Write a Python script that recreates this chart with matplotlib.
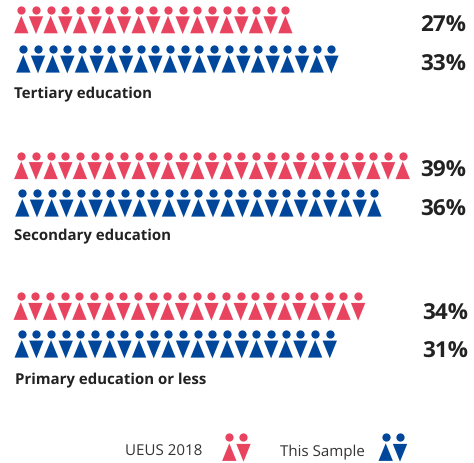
import matplotlib
matplotlib.use('Agg')
import matplotlib.pyplot as plt

plt.rcParams['font.family'] = ['Open Sans', 'DejaVu Sans']
plt.rcParams['text.hinting'] = 'none'

RED = '#e8445f'
BLUE = '#00479b'
DARK = '#222222'

labels = ['Tertiary education', 'Secondary education', 'Primary education or less']
ueus_pct = [27, 39, 34]
sample_pct = [33, 36, 31]
# one pictogram stands for about 1.4 percent
ueus_icons = [19, 27, 24]
sample_icons = [22, 25, 22]

# pixel layout of each group
red_y = [10.7, 156.5, 297.3]
blue_y = [50, 194, 335]
red_x = [21.3, 21.3, 20.7]
blue_x = [23.3, 22.3, 21.7]
red_text_y = [26.5, 171.5, 314]
blue_text_y = [65.5, 210.5, 352.5]
text_right = [466, 466, 468]
label_x = [14, 14, 15.5]
label_y = [94.5, 237, 380.5]

STEP = 14.67
W = 7.2


def icon(ax, cx, top, color, up):
    # head plus a triangle body, pointing up or down
    ax.scatter([cx], [top], s=35, color=color, linewidths=0, zorder=3)
    xs = [cx - W, cx + W, cx]
    if up:
        ys = [top + 23.6, top + 23.6, top + 6]
    else:
        ys = [top + 6.6, top + 6.6, top + 24.4]
    ax.fill(xs, ys, color=color, lw=0, zorder=3)


def row(ax, x0, y, n, color):
    for i in range(n):
        icon(ax, x0 + i * STEP, y, color, i % 2 == 0)


fig = plt.figure(figsize=(4.74, 4.64), dpi=100)
ax = fig.add_axes([0, 0, 1, 1])
ax.set_xlim(0, 474)
ax.set_ylim(464, 0)
ax.axis('off')

for k in range(3):
    row(ax, red_x[k], red_y[k], ueus_icons[k], RED)
    row(ax, blue_x[k], blue_y[k], sample_icons[k], BLUE)
    ax.text(text_right[k], red_text_y[k], '%d%%' % ueus_pct[k], ha='right', va='center',
            fontsize=16.2, fontweight='bold', color=DARK)
    ax.text(text_right[k], blue_text_y[k], '%d%%' % sample_pct[k], ha='right', va='center',
            fontsize=16.2, fontweight='bold', color=DARK)
    ax.text(label_x[k], label_y[k], labels[k], ha='left', va='center',
            fontsize=10.8, fontweight='bold', color=DARK)

# legend
ax.text(125, 452, 'UEUS 2018', ha='left', va='center', fontsize=10.9, color='#333333')
ax.text(280, 452, 'This Sample', ha='left', va='center', fontsize=10.9, color='#333333')
icon(ax, 229.3, 438.3, RED, True)
icon(ax, 243.5, 438.3, RED, False)
icon(ax, 385.7, 438.3, BLUE, True)
icon(ax, 400, 438.3, BLUE, False)

fig.savefig('out.png', dpi=100)
